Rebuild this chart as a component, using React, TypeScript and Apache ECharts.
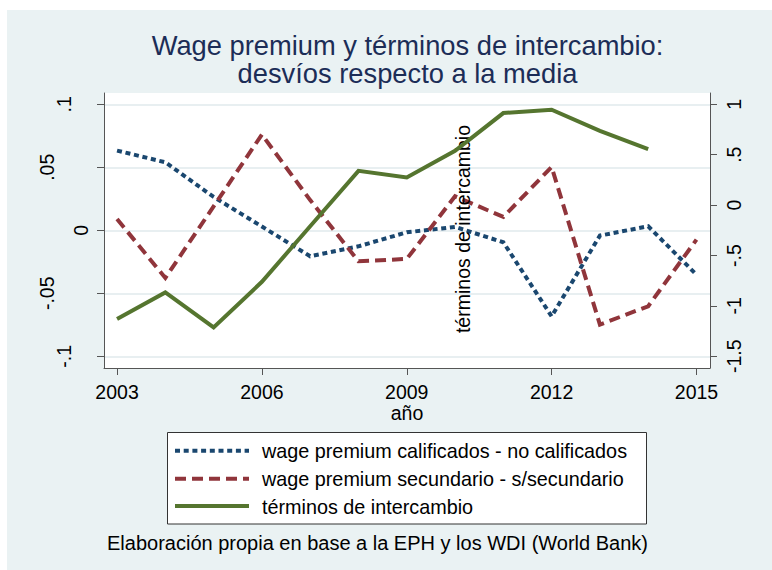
import React, { useEffect, useRef } from 'react';
import * as echarts from 'echarts';

const years = [2003, 2004, 2005, 2006, 2007, 2008, 2009, 2010, 2011, 2012, 2013, 2014, 2015];
const wageCalificados = [0.0633, 0.054, 0.0265, 0.003, -0.0206, -0.0127, -0.0016, 0.0027, -0.0095, -0.0683, -0.0042, 0.0032, -0.0352];
const wageSecundario = [0.009, -0.0378, 0.019, 0.076, 0.024, -0.0246, -0.0227, 0.027, 0.0106, 0.0503, -0.0748, -0.0603, -0.0074];
const terminosIntercambio = [-1.131, -0.866, -1.213, -0.761, -0.21, 0.34, 0.274, 0.539, 0.913, 0.946, 0.737, 0.556, null];

const seriesNames = [
  'wage premium calificados - no calificados',
  'wage premium secundario - s/secundario',
  'términos de intercambio',
];
const leftTicks = [-0.1, -0.05, 0, 0.05, 0.1];
const rightTicks = [-1.5, -1, -0.5, 0, 0.5, 1];
const xTicks = [2003, 2006, 2009, 2012, 2015];

const titleLines = ['Wage premium y términos de intercambio:', 'desvíos respecto a la media'];
const xTitle = 'año';
const rightTitle = 'términos de intercambio';
const note = 'Elaboración propia en base a la EPH y los WDI (World Bank)';

const NAVY = '#1a476f';
const MAROON = '#90353b';
const GREEN = '#55752f';
const BG = '#eaf2f3';
const GRID = '#e1eaed';
const AXIS = '#555555';
const FONT = '"Liberation Sans", Arial, sans-serif';
const FS = 19.5;
const LEGEND_FS = 19.8;

const baseYear = years[0];

const stataFmt = (v: number) => {
  let s = String(+v.toFixed(3));
  s = s.replace(/^(-?)0\./, '$1.');
  return s;
};
const isTick = (v: number, ticks: number[]) => ticks.some((t) => Math.abs(t - v) < 1e-6);

export default function App() {
  const ref = useRef<HTMLDivElement>(null);
  useEffect(() => {
    if (!ref.current) return;
    const chart = echarts.init(ref.current, undefined, { renderer: 'svg' });
    const dashes: any[] = [[5, 3.7], [11, 6], 'solid'];
    const colors = [NAVY, MAROON, GREEN];
    const datasets = [wageCalificados, wageSecundario, terminosIntercambio];
    const legendRows = [450.7, 478.7, 506];

    const legendGraphics: any[] = [];
    legendGraphics.push({
      type: 'rect',
      shape: { x: 167.5, y: 432.5, width: 479, height: 91.5 },
      style: { fill: '#ffffff', stroke: '#333333', lineWidth: 1 },
      z: 10,
    });
    seriesNames.forEach((name, i) => {
      legendGraphics.push({
        type: 'line',
        shape: { x1: 175, y1: legendRows[i], x2: 249, y2: legendRows[i] },
        style: {
          stroke: colors[i],
          lineWidth: 4,
          lineDash: Array.isArray(dashes[i]) ? dashes[i] : null,
        },
        z: 11,
      });
      legendGraphics.push({
        type: 'text',
        x: 262,
        y: legendRows[i] + 0.5,
        style: {
          text: name,
          fill: '#000',
          font: `${LEGEND_FS}px ${FONT}`,
          align: 'left',
          verticalAlign: 'middle',
          textAlign: 'left',
          textVerticalAlign: 'middle',
        },
        z: 11,
      });
    });

    const option: any = {
      animation: false,
      backgroundColor: '#ffffff',
      textStyle: { fontFamily: FONT },
      grid: { left: 104, top: 93, width: 606, height: 275, containLabel: false },
      xAxis: {
        type: 'value',
        min: -0.27,
        max: 12.28,
        splitNumber: 4,
        name: xTitle,
        nameLocation: 'middle',
        nameGap: 30,
        nameTextStyle: { fontSize: FS, color: '#000', fontFamily: FONT },
        axisLine: { show: true, onZero: false, lineStyle: { color: AXIS, width: 1 } },
        axisTick: { show: true, length: 7, lineStyle: { color: AXIS }, customValues: xTicks.map((y) => y - baseYear) },
        axisLabel: {
          color: '#000',
          fontSize: FS,
          fontFamily: FONT,
          margin: 14,
          lineHeight: 20,
          customValues: xTicks.map((y) => y - baseYear),
          formatter: (v: number) => (isTick(v + baseYear, xTicks) ? String(Math.round(v + baseYear)) : ''),
        },
        splitLine: { show: false },
      },
      yAxis: [
        {
          type: 'value',
          position: 'left',
          min: -0.1093,
          max: 0.109,
          splitNumber: 4,
          axisLine: { show: true, onZero: false, lineStyle: { color: AXIS, width: 1 } },
          axisTick: { show: true, length: 7, lineStyle: { color: AXIS }, customValues: leftTicks },
          axisLabel: {
            rotate: 90,
            color: '#000',
            fontSize: FS,
            fontFamily: FONT,
            margin: 15,
            lineHeight: 17,
            customValues: leftTicks,
            formatter: (v: number) => {
              if (!isTick(v, leftTicks)) return '';
              const s = stataFmt(v);
              const n = s.replace('-', '').length - 1;
              return s + '\n'.repeat(n);
            },
          },
          splitLine: { show: true, lineStyle: { color: GRID, width: 1.5 } },
        },
        {
          type: 'value',
          position: 'right',
          min: -1.616,
          max: 1.112,
          splitNumber: 5,
          axisLine: { show: true, onZero: false, lineStyle: { color: AXIS, width: 1 } },
          axisTick: { show: true, length: 7, lineStyle: { color: AXIS }, customValues: rightTicks },
          axisLabel: {
            rotate: 90,
            color: '#000',
            fontSize: FS,
            fontFamily: FONT,
            margin: 15,
            lineHeight: 17,
            customValues: rightTicks,
            formatter: (v: number) => (isTick(v, rightTicks) ? stataFmt(v) : ''),
          },
          splitLine: { show: false },
        },
      ],
      series: seriesNames.map((name, i) => ({
        name,
        type: 'line',
        yAxisIndex: i === 2 ? 1 : 0,
        symbol: 'none',
        showSymbol: false,
        connectNulls: false,
        lineStyle: { color: colors[i], width: 4, type: dashes[i], cap: 'butt', join: 'miter' },
        data: years.map((y, k) => [y - baseYear, datasets[i][k]]),
        z: 3 + i,
      })),
      graphic: [
        {
          type: 'rect',
          shape: { x: 7, y: 10, width: 765, height: 560 },
          style: { fill: BG },
          z: -20,
          silent: true,
        },
        {
          type: 'rect',
          shape: { x: 104, y: 93, width: 606, height: 275 },
          style: { fill: '#ffffff' },
          z: -19,
          silent: true,
        },
        {
          type: 'text',
          x: 407.5,
          y: 45.5,
          style: {
            text: titleLines[0],
            fill: '#1c2d57',
            font: `27.3px ${FONT}`,
            align: 'center',
            verticalAlign: 'middle',
            textAlign: 'center',
            textVerticalAlign: 'middle',
          },
        },
        {
          type: 'text',
          x: 407.5,
          y: 73.5,
          style: {
            text: titleLines[1],
            fill: '#1c2d57',
            font: `27.3px ${FONT}`,
            align: 'center',
            verticalAlign: 'middle',
            textAlign: 'center',
            textVerticalAlign: 'middle',
          },
        },
        {
          type: 'text',
          x: 463,
          y: 229,
          rotation: Math.PI / 2,
          style: {
            text: rightTitle,
            fill: '#000',
            font: `${FS}px ${FONT}`,
            align: 'center',
            verticalAlign: 'middle',
            textAlign: 'center',
            textVerticalAlign: 'middle',
          },
          z: 5,
        },
        {
          type: 'text',
          x: 107,
          y: 543,
          style: {
            text: note,
            fill: '#000',
            font: `20px ${FONT}`,
            align: 'left',
            verticalAlign: 'middle',
            textAlign: 'left',
            textVerticalAlign: 'middle',
          },
        },
        ...legendGraphics,
      ],
    };
    chart.setOption(option);
    return () => chart.dispose();
  }, []);
  return (
    <div
      ref={ref}
      style={{ position: 'absolute', left: 0, top: 0, width: 772, height: 570 }}
    />
  );
}
